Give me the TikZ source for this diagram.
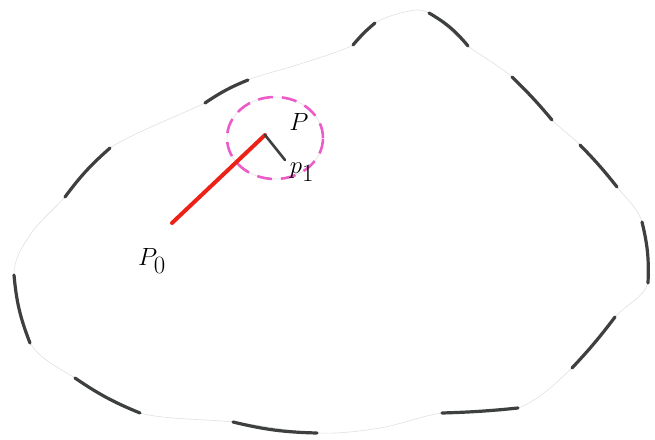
\documentclass[tikz,border=0pt]{standalone}
\usetikzlibrary{positioning, shapes.geometric}
\definecolor{pencil}{RGB}{62,64,64}
\definecolor{marker}{RGB}{236,34,24}
\definecolor{rose}{RGB}{236,92,200}
\tikzset{
  outline/.style={draw=pencil, line width=3.2pt, line cap=round},
  trace/.style={draw=black!12, line width=0.6pt},
  walk/.style={draw=marker, line width=4pt, line cap=round},
  hop/.style={draw=pencil, line width=2.6pt, line cap=round},
  nbhd/.style={ellipse, draw=rose, line width=2.6pt, dash pattern=on 15pt off 9pt, minimum width=96pt, minimum height=82pt, inner sep=0pt},
  lbl/.style={inner sep=0pt, text=black}
}
\begin{document}
\begin{tikzpicture}[x=1pt, y=-1pt]
    \useasboundingbox (0,0) rectangle (655,439);
    % faint pencil trace of the region
    \draw[trace] plot[smooth cycle, tension=0.55] coordinates {
      (30,343) (14,275) (30,235) (65,197) (110,148) (205,103) (248,80)
      (300,64) (353,45) (375,23) (405,12) (429,13) (468,46) (512,77)
      (552,120) (580,145) (617,187) (642,222) (648,283) (615,317)
      (572,368) (518,408) (442,413) (380,428) (317,433) (233,422)
      (140,413) (75,378)};
    % dashes of the region
    \draw[outline] (30,343) to[bend left=8] (14,275);
    \draw[outline] (65,197) to[bend left=6] (110,148);
    \draw[outline] (205,103) to[bend left=6] (248,80);
    \draw[outline] (353,45) to[bend left=5] (375,23);
    \draw[outline] (429,13) to[bend left=10] (468,46);
    \draw[outline] (512,77) to[bend left=3] (552,120);
    \draw[outline] (580,145) to[bend left=3] (617,187);
    \draw[outline] (642,222) to[bend left=8] (648,283);
    \draw[outline] (615,317) to[bend left=3] (572,368);
    \draw[outline] (518,408) to[bend left=2] (442,413);
    \draw[outline] (317,433) to[bend left=6] (233,422);
    \draw[outline] (140,413) to[bend left=6] (75,378);

    % neighbourhood of P
    \draw[trace] (275,138) ellipse [x radius=48, y radius=41];
    \node[nbhd] (ball) at (275,138) {};

    \coordinate (p0) at (172,223);
    \coordinate (p) at (265,135);
    \coordinate (p1) at (285,160);
    \draw[walk] (p0) -- (p);
    \draw[hop] (p) -- (p1);

    \node[lbl, font=\fontsize{38}{38}\selectfont] (lp0) at (152,261) {$P_0$};
    \node[lbl, font=\fontsize{30}{30}\selectfont] (lp) at (299,122) {$P$};
    \node[lbl, font=\fontsize{36}{36}\selectfont] (lp1) at (302,172) {$p_1$};
  \end{tikzpicture}
\end{document}
